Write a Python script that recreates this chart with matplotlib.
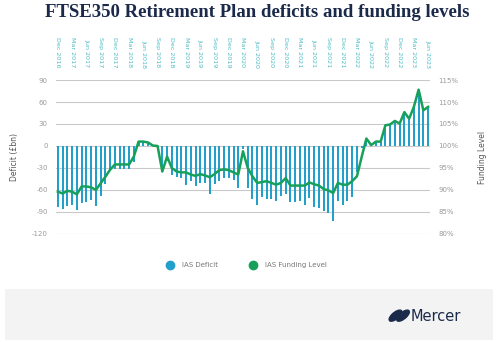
import numpy as np
import matplotlib
matplotlib.use("Agg")
import matplotlib.pyplot as plt
from matplotlib.lines import Line2D
from matplotlib.patches import Rectangle, Ellipse

# monthly, Dec 2016 .. Jun 2023
months = ["Dec", "Jan", "Feb", "Mar", "Apr", "May", "Jun",
          "Jul", "Aug", "Sep", "Oct", "Nov"]
start_year = 2016
n_points = 79

deficit = [
    -83, -86, -82, -80, -88, -78, -76, -74, -82, -68,
    -52, -34, -32, -32, -32, -31, -22, 6, 6, 5,
    1, 0, -35, -20, -40, -42, -44, -53, -48, -55,
    -50, -50, -66, -52, -48, -44, -44, -46, -57, -4,
    -58, -73, -80, -70, -73, -73, -75, -68, -66, -77,
    -77, -75, -81, -71, -83, -85, -89, -92, -102, -75,
    -80, -75, -69, -35, -3, 10, 1, 6, 6, 28,
    30, 34, 31, 46, 37, 53, 77, 49, 53,
]

funding = [
    89.6, 89.2, 89.8, 89.6, 89.0, 90.8, 90.8, 90.6, 90.0, 91.5,
    93.0, 94.6, 95.8, 95.8, 95.8, 95.8, 97.6, 101.0, 101.0, 100.8,
    100.1, 100.0, 94.2, 97.6, 95.0, 94.2, 94.0, 94.0, 93.5, 93.2,
    93.6, 93.3, 92.9, 93.6, 94.5, 94.7, 94.5, 94.0, 93.5, 98.8,
    95.0, 93.1, 91.6, 91.8, 92.0, 91.6, 91.2, 91.6, 92.7, 91.0,
    91.0, 91.0, 91.0, 91.7, 91.3, 91.0, 90.2, 89.9, 89.3, 91.6,
    91.2, 91.2, 92.0, 93.1, 97.5, 101.7, 100.2, 101.0, 101.0, 104.7,
    104.9, 105.7, 105.1, 107.7, 106.2, 108.9, 112.8, 108.1, 108.9,
]

left_ticks = [-120, -90, -60, -30, 0, 30, 60, 90]
right_ticks = [80, 85, 90, 95, 100, 105, 110, 115]

labels = []
for i in range(n_points):
    m = months[i % 12]
    y = start_year + (i + 11) // 12
    labels.append(f"{m} {y}")

bar_col = "#22a0cb"
line_col = "#17a05a"
grid_col = "#c9c9c9"
tick_col = "#9a9a9a"
top_col = "#4dbcc6"
navy = "#1b2a4a"

fig = plt.figure(figsize=(5.0, 3.42), dpi=100)
fig.patch.set_facecolor("white")

# footer band
fig.patches.append(Rectangle((0.01, 0.006), 0.976, 0.148, transform=fig.transFigure,
                             facecolor="#f3f3f3", edgecolor="none", zorder=0))

ax = fig.add_axes([0.112, 0.316, 0.748, 0.45])
x = np.arange(n_points)
ax.bar(x, deficit, width=0.42, color=bar_col, zorder=2)
ax.set_ylim(-120, 90)
ax.set_xlim(-0.4, n_points - 0.6)
ax.set_yticks(left_ticks)
ax.set_yticklabels([str(v) for v in left_ticks])
ax.grid(axis="y", color=grid_col, linewidth=0.8, zorder=0)
ax.tick_params(axis="y", length=0, labelsize=5, labelcolor=tick_col, pad=6)
ax.set_ylabel("Deficit (£bn)", fontsize=5.5, color="#555555", labelpad=9)
ax.xaxis.tick_top()
ax.set_xticks(x[::3])
ax.set_xticklabels(labels[::3], rotation=270, fontsize=4.6, color=top_col)
ax.tick_params(axis="x", length=0, pad=9)
for s in ax.spines.values():
    s.set_visible(False)

ax2 = ax.twinx()
ax2.plot(x, funding, color=line_col, linewidth=1.8, zorder=3)
ax2.set_ylim(80, 115)
ax2.set_yticks(right_ticks)
ax2.set_yticklabels([f"{v}%" for v in right_ticks])
ax2.tick_params(axis="y", length=0, labelsize=5, labelcolor=tick_col, pad=6)
ax2.set_ylabel("Funding Level", fontsize=5.5, color="#555555", labelpad=14)
for s in ax2.spines.values():
    s.set_visible(False)

fig.text(0.515, 0.962, "FTSE350 Retirement Plan deficits and funding levels",
         ha="center", va="center", fontsize=13.5, fontweight="bold",
         family="Liberation Serif", color=navy)

handles = [
    Line2D([], [], marker="o", linestyle="none", markersize=6, color=bar_col),
    Line2D([], [], marker="o", linestyle="none", markersize=6, color=line_col),
]
fig.legend(handles, ["IAS Deficit", "IAS Funding Level"], loc="center",
           bbox_to_anchor=(0.49, 0.225), ncol=2, frameon=False, fontsize=5,
           labelcolor="#777777", columnspacing=4, handletextpad=0.8)

# logo
fig.patches.append(Ellipse((0.791, 0.077), 0.016, 0.038, angle=-35,
                           transform=fig.transFigure, color=navy))
fig.patches.append(Ellipse((0.806, 0.077), 0.016, 0.038, angle=-35,
                           transform=fig.transFigure, color=navy))
fig.text(0.822, 0.075, "Mercer", ha="left", va="center", fontsize=10.5,
         color=navy, family="DejaVu Sans")

fig.savefig("out.png", dpi=100)
